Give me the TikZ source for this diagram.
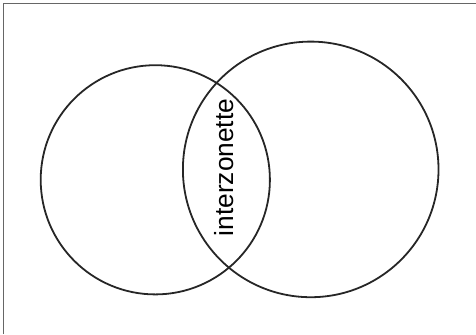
\documentclass[tikz,border=0pt]{standalone}
\usepackage{fontspec}
\setmainfont{Liberation Sans}
\usetikzlibrary{positioning}

\begin{document}
\begin{tikzpicture}[x=1bp,y=-1bp]
\useasboundingbox (0,0) rectangle (476,334);
\draw[line width=1.5bp,color=black!60] (3.5,334) -- (3.5,3.3) -- (476,3.3);

\draw[line width=1.8bp,color=black!85] (155.3,179.8) circle(114.6bp);
\draw[line width=1.8bp,color=black!85] (310.7,169.4) circle(127.8bp);
\node[rotate=90,inner sep=0pt,font=\fontsize{26.4}{30}\selectfont] (zone) at (223.6,167.5) {interzonette};

\end{tikzpicture}
\end{document}
